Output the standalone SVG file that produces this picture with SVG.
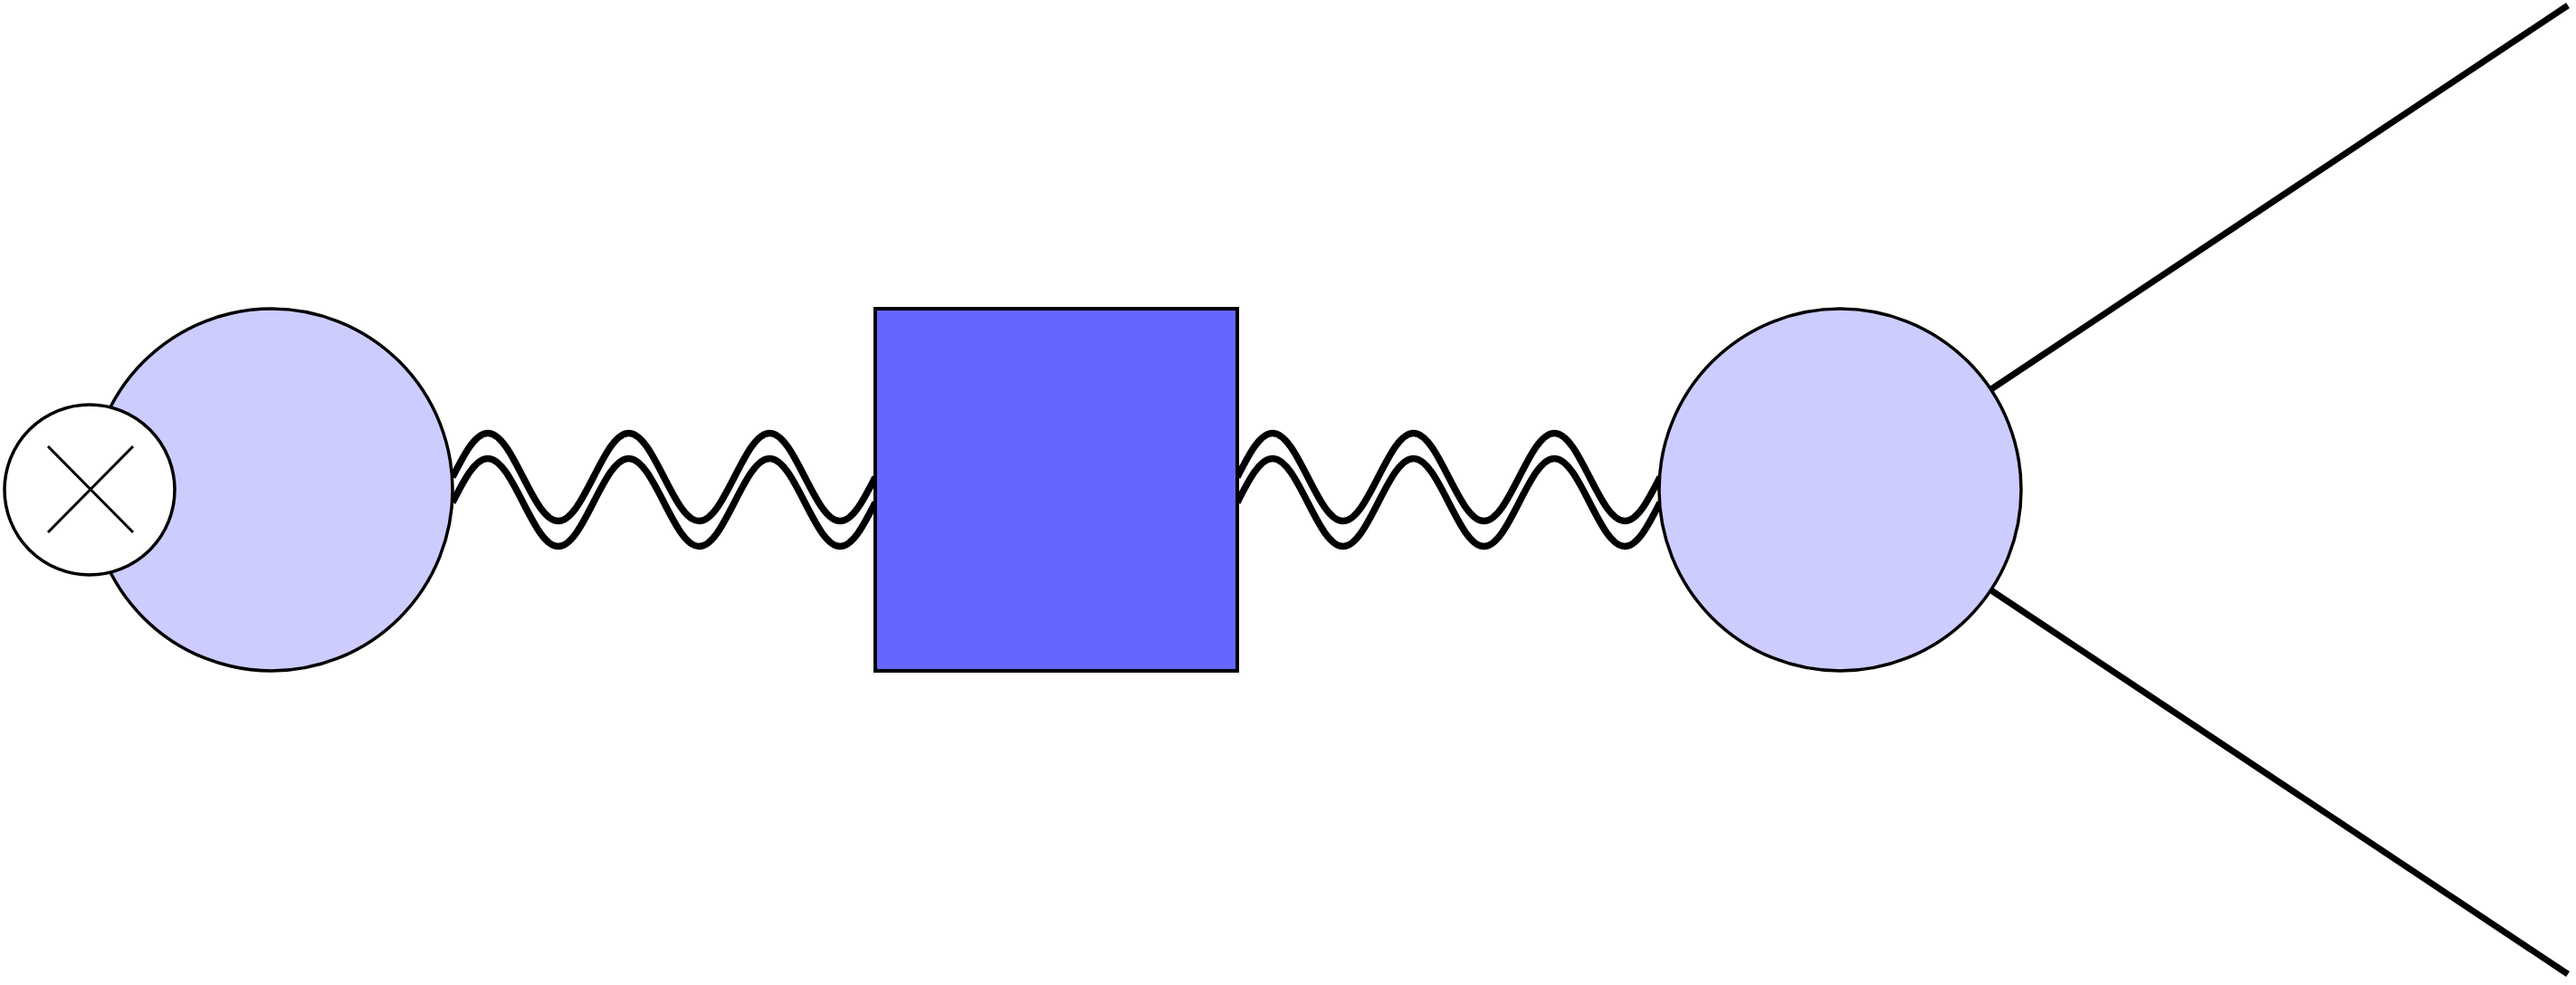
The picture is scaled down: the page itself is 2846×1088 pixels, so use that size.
<svg xmlns="http://www.w3.org/2000/svg" xmlns:xlink="http://www.w3.org/1999/xlink" width="2846" height="1088" viewBox="0 0 2846 1088">
<style>
.wave{fill:none;stroke:#000;stroke-width:7.5}
.leg{stroke:#000;stroke-width:7;stroke-linecap:butt}
.blob{fill:#ccccff;stroke:#000;stroke-width:3.5}
.box{fill:#6666ff;stroke:#000;stroke-width:4}
.vtx{fill:#fff;stroke:#000;stroke-width:3.5}
.cross{stroke:#000;stroke-width:3}
</style>
<defs>
<path id="w" d="M0,0 c 12.69,-24.85 24.83,-48.5 38.92,-48.5 s 26.22,23.65 38.92,48.5 s 24.83,48.5 38.92,48.5 s 26.22,-23.65 38.92,-48.5 s 24.83,-48.5 38.92,-48.5 s 26.22,23.65 38.92,48.5 s 24.83,48.5 38.92,48.5 s 26.22,-23.65 38.92,-48.5 s 24.83,-48.5 38.92,-48.5 s 26.22,23.65 38.92,48.5 s 24.83,48.5 38.92,48.5 s 26.22,-23.65 38.92,-48.5"/>
</defs>
<rect width="2846" height="1088" fill="#fff"/>
<g id="connectors">
<use xlink:href="#w" href="#w" class="wave" transform="translate(500,527)"/>
<use xlink:href="#w" href="#w" class="wave" transform="translate(500,555)"/>
<use xlink:href="#w" href="#w" class="wave" transform="translate(1367,527)"/>
<use xlink:href="#w" href="#w" class="wave" transform="translate(1367,555)"/>
<line class="leg" x1="2033" y1="541" x2="2837" y2="6"/>
<line class="leg" x1="2033" y1="541" x2="2837" y2="1076"/>
</g>
<g id="blob-left">
<circle class="blob" cx="300" cy="541" r="200"/>
</g>
<g id="vertex-cross">
<circle class="vtx" cx="99" cy="541" r="94"/>
<line class="cross" x1="53" y1="493" x2="147" y2="588"/>
<line class="cross" x1="147" y1="493" x2="53" y2="588"/>
</g>
<g id="box-center">
<rect class="box" x="967" y="341" width="400" height="400"/>
</g>
<g id="blob-right">
<circle class="blob" cx="2033" cy="541" r="200"/>
</g>
</svg>
